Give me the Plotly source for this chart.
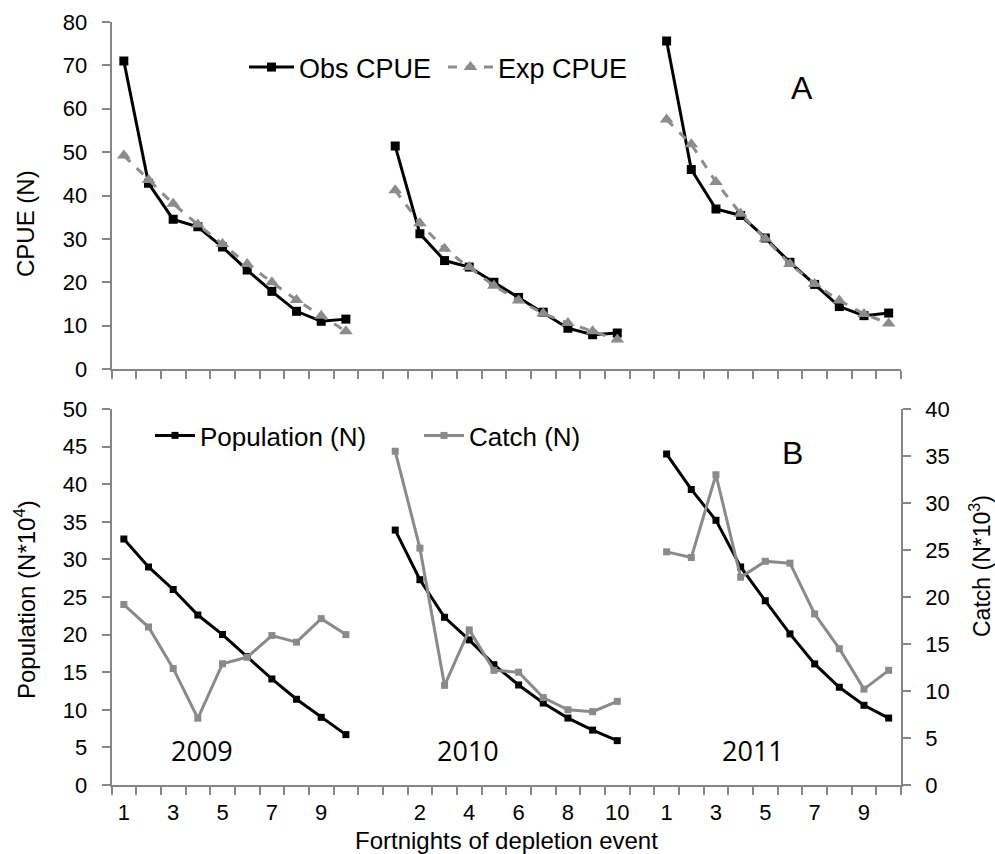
import plotly.graph_objects as go

# ---------------- data ----------------
years = ["2009", "2010", "2011"]
fortnights = [1, 2, 3, 4, 5, 6, 7, 8, 9, 10]

obs_cpue_2009 = [71.0, 42.8, 34.5, 32.8, 28.1, 22.8, 17.9, 13.3, 11.0, 11.5]
obs_cpue_2010 = [51.4, 31.2, 25.0, 23.5, 20.0, 16.5, 13.1, 9.4, 7.9, 8.3]
obs_cpue_2011 = [75.6, 46.0, 36.9, 35.4, 30.2, 24.6, 19.5, 14.4, 12.3, 12.9]

exp_cpue_2009 = [49.2, 43.6, 38.1, 33.3, 28.8, 24.2, 20.0, 15.9, 12.3, 8.7]
exp_cpue_2010 = [41.2, 33.6, 27.7, 23.5, 19.2, 15.8, 12.8, 10.6, 8.7, 6.8]
exp_cpue_2011 = [57.5, 51.8, 43.1, 35.8, 30.0, 24.2, 19.6, 15.8, 12.7, 10.5]

pop_2009 = [32.7, 29.0, 26.0, 22.6, 20.0, 17.1, 14.1, 11.4, 9.0, 6.7]
pop_2010 = [33.9, 27.3, 22.3, 19.3, 16.0, 13.3, 10.9, 8.9, 7.3, 5.9]
pop_2011 = [44.0, 39.3, 35.2, 29.0, 24.5, 20.1, 16.1, 13.0, 10.6, 8.9]

catch_2009 = [19.2, 16.8, 12.4, 7.1, 12.9, 13.6, 15.9, 15.2, 17.7, 16.0]
catch_2010 = [35.5, 25.2, 10.6, 16.5, 12.2, 12.0, 9.3, 8.0, 7.8, 8.9]
catch_2011 = [24.8, 24.2, 33.0, 22.1, 23.8, 23.6, 18.2, 14.5, 10.2, 12.2]

# fortnights that carry a tick label on the bottom axis, per year
label_fortnights_2009 = [1, 3, 5, 7, 9]
label_fortnights_2010 = [2, 4, 6, 8, 10]
label_fortnights_2011 = [1, 3, 5, 7, 9]

cpue_ticks = [0, 10, 20, 30, 40, 50, 60, 70, 80]
pop_ticks = [0, 5, 10, 15, 20, 25, 30, 35, 40, 45, 50]
catch_ticks = [0, 5, 10, 15, 20, 25, 30, 35, 40]

# ---------------- helpers ----------------
SLOT = len(fortnights) + 1  # one empty category between years


def series_x():
    xs = []
    for k in range(len(years)):
        if k:
            xs.append(None)
        xs.extend(k * SLOT + f for f in fortnights)
    return xs


def series_y(*parts):
    ys = []
    for k, p in enumerate(parts):
        if k:
            ys.append(None)
        ys.extend(p)
    return ys


X = series_x()
n_cat = len(years) * SLOT - 1

tick_vals, tick_text = [], []
for k, lf in enumerate([label_fortnights_2009, label_fortnights_2010, label_fortnights_2011]):
    for f in lf:
        tick_vals.append(k * SLOT + f)
        tick_text.append(str(f))

FONT = "Liberation Sans, Arial, sans-serif"
AXIS = "#868686"
GREY = "#8a8a8a"

fig = go.Figure()

fig.add_trace(go.Scatter(
    x=X, y=series_y(obs_cpue_2009, obs_cpue_2010, obs_cpue_2011),
    mode="lines+markers", name="Obs CPUE", legend="legend",
    line=dict(color="black", width=3),
    marker=dict(symbol="square", size=9, color="black"),
    xaxis="x", yaxis="y", connectgaps=False))
fig.add_trace(go.Scatter(
    x=X, y=series_y(exp_cpue_2009, exp_cpue_2010, exp_cpue_2011),
    mode="lines+markers", name="Exp CPUE", legend="legend",
    line=dict(color="#8c8c8c", width=3, dash="dash"),
    marker=dict(symbol="triangle-up", size=12, color="#8c8c8c"),
    xaxis="x", yaxis="y", connectgaps=False))

fig.add_trace(go.Scatter(
    x=X, y=series_y(pop_2009, pop_2010, pop_2011),
    mode="lines+markers", name="Population (N)", legend="legend2",
    line=dict(color="black", width=3),
    marker=dict(symbol="square", size=7, color="black"),
    xaxis="x2", yaxis="y2", connectgaps=False))
fig.add_trace(go.Scatter(
    x=X, y=series_y(catch_2009, catch_2010, catch_2011),
    mode="lines+markers", name="Catch (N)", legend="legend2",
    line=dict(color=GREY, width=3),
    marker=dict(symbol="square", size=7, color=GREY),
    xaxis="x2", yaxis="y3", connectgaps=False))

xdom = [111.5 / 995, 901 / 995]
common_x = dict(
    domain=xdom, range=[0.5, n_cat + 0.5], showline=True, linecolor=AXIS,
    linewidth=1.5, showgrid=False, zeroline=False, ticks="",
    minor=dict(tickmode="linear", tick0=0.5, dtick=1, ticks="outside",
               ticklen=8, tickcolor=AXIS, tickwidth=1.5, showgrid=False),
)
common_y = dict(showline=True, linecolor=AXIS, linewidth=1.5,
                ticks="outside", ticklen=8, tickcolor=AXIS, tickwidth=1.5,
                showgrid=False, zeroline=False, tickfont=dict(size=22),
                ticklabelstandoff=10)

fig.update_layout(
    width=995, height=854,
    margin=dict(l=0, r=0, t=0, b=0, autoexpand=False),
    paper_bgcolor="white", plot_bgcolor="white",
    font=dict(family=FONT, size=22, color="black"),
    xaxis=dict(anchor="y", tickvals=[], showticklabels=False, **common_x),
    yaxis=dict(domain=[1 - 369 / 854, 1 - 22 / 854], range=[0, 80],
               tickvals=cpue_ticks, anchor="x", **common_y),
    xaxis2=dict(anchor="y2", tickmode="array", tickvals=tick_vals, ticktext=tick_text,
                tickfont=dict(size=22), ticklabelstandoff=7, **common_x),
    yaxis2=dict(domain=[1 - 785 / 854, 1 - 409 / 854], range=[0, 50],
                tickvals=pop_ticks, anchor="x2", **common_y),
    yaxis3=dict(overlaying="y2", side="right", anchor="x2", range=[0, 40],
                tickvals=catch_ticks, **common_y),
    legend=dict(orientation="h", x=244 / 995, y=1 - 43 / 854, xanchor="left",
                yanchor="top", font=dict(size=27), bgcolor="rgba(0,0,0,0)",
                entrywidth=139, entrywidthmode="pixels", itemwidth=45),
    legend2=dict(orientation="h", x=150 / 995, y=1 - 412 / 854, xanchor="left",
                 yanchor="top", font=dict(size=26), bgcolor="rgba(0,0,0,0)",
                 entrywidth=214, entrywidthmode="pixels", itemwidth=40),
)

ann = [
    dict(text="CPUE (N)", x=25 / 995, y=1 - 224 / 854, textangle=-90, font=dict(size=24)),
    dict(text="Population (N*10<sup>4</sup>)", x=25 / 995, y=1 - 600 / 854, textangle=-90,
         font=dict(size=24)),
    dict(text="Catch (N*10<sup>3</sup>)", x=980 / 995, y=1 - 566 / 854, textangle=-90,
         font=dict(size=23)),
    dict(text="Fortnights of depletion event", x=506 / 995, y=1 - 840 / 854, font=dict(size=24)),
    dict(text="A", x=802 / 995, y=1 - 88 / 854, font=dict(size=32)),
    dict(text="B", x=792 / 995, y=1 - 453 / 854, font=dict(size=32)),
]
for k, yr in enumerate(years):
    cx = [202, 468, 753][k]
    ann.append(dict(text=yr, x=cx / 995, y=1 - 750 / 854,
                    font=dict(size=27, family="Open Sans, sans-serif")))
for a in ann:
    a.update(xref="paper", yref="paper", showarrow=False, xanchor="center", yanchor="middle")
fig.update_layout(annotations=ann)

fig.write_html("out.html", config={"displayModeBar": False},
               post_script="document.body.style.margin='0px';")
